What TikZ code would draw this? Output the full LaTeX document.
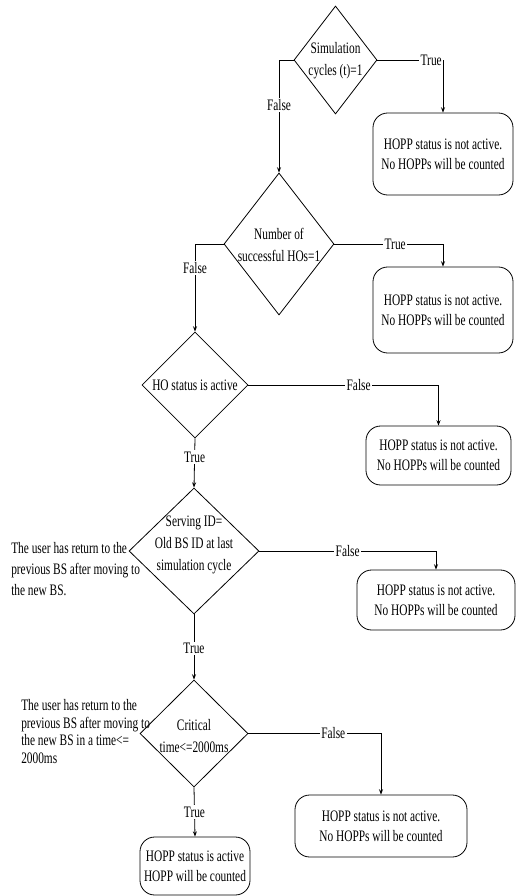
\documentclass[tikz,border=0pt]{standalone}
\usepackage{fontspec}
\setmainfont{Liberation Serif}[FakeStretch=0.71]
\usetikzlibrary{shapes.geometric,arrows.meta}
\begin{document}
\begin{tikzpicture}[x=0.75pt,y=-0.75pt,
  every node/.style={font=\fontsize{12}{15}\selectfont},
  sz/.style 2 args={minimum width=#1*0.75pt,minimum height=#2*0.75pt},
  dia/.style={draw,diamond,inner sep=0pt,line width=0.6pt},
  dtxt/.style={align=center,font=\fontsize{12}{16.5}\selectfont,inner sep=0pt},
  res/.style={draw,rounded corners=11pt,align=center,line width=0.6pt,inner sep=0pt},
  arr/.style={draw,line width=0.6pt,-{Stealth[length=4pt,width=3pt]}},
  lbl/.style={fill=white,inner sep=1pt},
  note/.style={align=left,anchor=west,inner sep=0pt}]
\useasboundingbox (0,0) rectangle (515,896);
% decisions
\node[dia,sz={83}{108}] (d1) at (335.5,60) {};
\node[dtxt] (d1t) at (335.5,61) {Simulation\\cycles (t)=1};
\node[dia,sz={110}{142}] (d2) at (279,244) {};
\node[dtxt] (d2t) at (279,245) {Number of\\successful HOs=1};
\node[dia,sz={106}{106}] (d3) at (195,385) {};
\node[dtxt] (d3t) at (195,385) {HO status is active};
\node[dia,sz={130}{126}] (d4) at (194,551) {};
\node[dtxt] (d4t) at (194,545) {Serving ID=\\Old BS ID at last\\simulation cycle};
\node[dia,sz={108}{107}] (d5) at (194,733.5) {};
\node[dtxt] (d5t) at (194,736) {Critical\\time<=2000ms};
% results
\node[res,sz={140}{82}] (b1) at (443,154) {HOPP status is not active.\\No HOPPs will be counted};
\node[res,sz={140}{86}] (b2) at (443,310) {HOPP status is not active.\\No HOPPs will be counted};
\node[res,sz={145}{59}] (b3) at (438.5,455.5) {HOPP status is not active.\\No HOPPs will be counted};
\node[res,sz={158}{60}] (b4) at (436,600) {HOPP status is not active.\\No HOPPs will be counted};
\node[res,sz={172}{62}] (b5) at (381,826) {HOPP status is not active.\\No HOPPs will be counted};
\node[res,sz={110}{58}] (b6) at (195,866) {HOPP status is active\\HOPP will be counted};
% notes
\node[note,font=\fontsize{12}{15.75}\selectfont] (n1) at (11,569) {The user has return to the\\previous BS after moving to\\the new BS.};
\node[note,font=\fontsize{12}{13.3}\selectfont] (n2) at (21,731.5) {The user has return to the\\previous BS after moving to\\the new BS in a time<=\\2000ms};
% connectors
\draw[arr] (d1.east) -| node[lbl,pos=0.41]{True} (b1.north);
\draw[arr] (d1.west) -| node[lbl,pos=0.7]{False} (d2.north);
\draw[arr] (d2.east) -| node[lbl,pos=0.28]{True} (b2.north);
\draw[arr] (d2.west) -| node[lbl,pos=0.635]{False} (d3.north);
\draw[arr] (d3.east) -| node[lbl,pos=0.29]{False} (b3.north);
\draw[arr] (d3.south) -- node[lbl,pos=0.38]{True} (d4.north);
\draw[arr] (d4.east) -| node[lbl,pos=0.25]{False} (b4.north);
\draw[arr] (d4.south) -- node[lbl,pos=0.52]{True} (d5.north);
\draw[arr] (d5.east) -| node[lbl,pos=0.32]{False} (b5.north);
\draw[arr] (d5.south) -- node[lbl,pos=0.5]{True} (b6.north);
\end{tikzpicture}
\end{document}
